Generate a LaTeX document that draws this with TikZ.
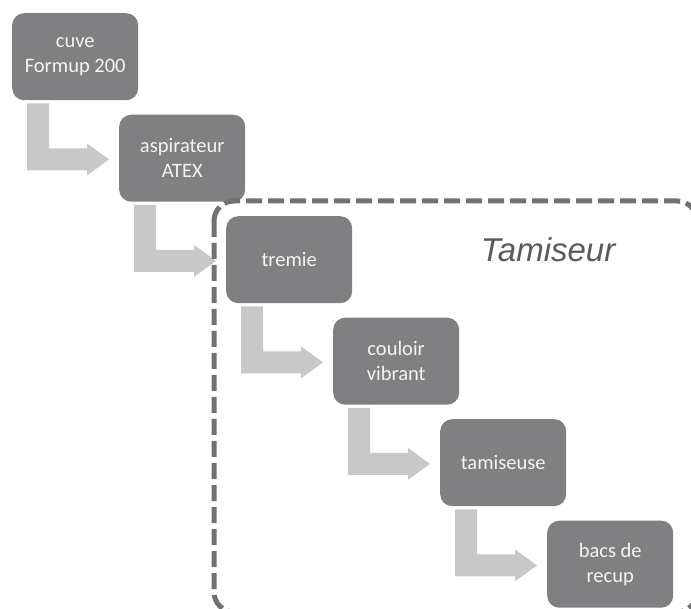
\documentclass[tikz,border=0pt]{standalone}
\usepackage{fontspec}
\setmainfont{Carlito}
\newfontfamily\arialfont{Liberation Sans}
\usetikzlibrary{calc}
\definecolor{boxgray}{HTML}{808082}
\definecolor{arrowgray}{HTML}{C8C8C8}
\definecolor{framegray}{HTML}{717173}
\definecolor{titlegray}{HTML}{5A5A5C}
\definecolor{boxtext}{HTML}{F4F4F4}
\tikzset{
  stepbox/.style={draw=none, fill=boxgray, rounded corners=12pt, minimum width=126pt, minimum height=87pt,
    inner sep=0pt, anchor=north west, text=boxtext, align=center,
    font=\fontsize{20.5pt}{25pt}\selectfont},
  bentarrow/.style={fill=arrowgray, draw=none},
  groupframe/.style={draw=framegray, line width=5pt, dash pattern=on 16pt off 6pt, rounded corners=20pt},
}
\begin{document}
\begin{tikzpicture}[x=1pt,y=-1pt]
\useasboundingbox (0,0) rectangle (691,609);
\node[stepbox] (b1) at (12,13) {cuve\\Formup 200};
\node[stepbox] (b2) at (119,114.5) {aspirateur\\ATEX};
\node[stepbox] (b3) at (226,216) {tremie};
\node[stepbox] (b4) at (333,317.5) {couloir\\vibrant};
\node[stepbox] (b5) at (440,419) {tamiseuse};
\node[stepbox] (b6) at (547,520.5) {bacs de\\recup};
\foreach \i in {1,...,5}{
  \fill[bentarrow] ($(b\i.south west)+(15,3)$) -- ($(b\i.south west)+(37,3)$) -- ($(b\i.south west)+(37,48)$)
    -- ($(b\i.south west)+(75,48)$) -- ($(b\i.south west)+(75,43)$) -- ($(b\i.south west)+(97,59)$)
    -- ($(b\i.south west)+(75,75)$) -- ($(b\i.south west)+(75,70)$) -- ($(b\i.south west)+(15,70)$) -- cycle;
}
\draw[groupframe] (214,201) rectangle (697,612);
\node[text=titlegray, font=\arialfont\itshape\fontsize{33pt}{38pt}\selectfont] (title) at (548,250) {Tamiseur};
\end{tikzpicture}
\end{document}
